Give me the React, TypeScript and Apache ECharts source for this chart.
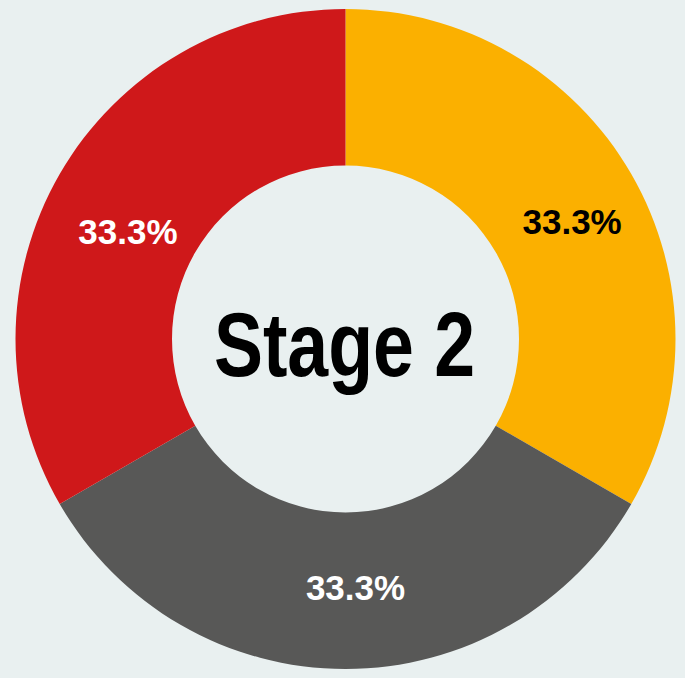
import React, { useEffect, useRef } from "react";
import * as echarts from "echarts";

const categories = ["Orange", "Gray", "Red"];
const values = [1, 1, 1];
const colors = ["#fbb000", "#585857", "#cf181a"];
const labelColors = ["#000000", "#ffffff", "#ffffff"];
const labelOffsets: [number, number][] = [[6, 10], [10, -6], [3, 20]];
const centerText = "Stage 2";

export default function App() {
  const ref = useRef<HTMLDivElement>(null);
  useEffect(() => {
    if (!ref.current) return;
    const chart = echarts.init(ref.current, undefined, { renderer: "svg" });
    chart.setOption({
      animation: false,
      backgroundColor: "#e9f0f0",
      graphic: [
        {
          type: "text",
          x: 344.5,
          y: 345,
          scaleX: 0.816,
          style: {
            text: centerText,
            font: 'bold 90px "Liberation Sans", Arial, sans-serif',
            fill: "#000000",
            textAlign: "center",
            textVerticalAlign: "middle",
          },
        },
      ],
      series: [
        {
          type: "pie",
          center: [345.5, 339],
          radius: [173.5, 330],
          startAngle: 90,
          clockwise: true,
          silent: true,
          itemStyle: { borderWidth: 0 },
          label: {
            show: true,
            position: "inside",
            fontFamily: '"Liberation Sans", Arial, sans-serif',
            fontWeight: "bold",
            fontSize: 35,
            formatter: (p: any) => p.percent.toFixed(1) + "%",
          },
          labelLine: { show: false },
          data: categories.map((name, i) => ({
            name,
            value: values[i],
            itemStyle: { color: colors[i] },
            label: { color: labelColors[i], offset: labelOffsets[i] },
          })),
        },
      ],
    });
    return () => chart.dispose();
  }, []);
  return (
    <div
      ref={ref}
      style={{ position: "fixed", left: 0, top: 0, width: 685, height: 678 }}
    />
  );
}
